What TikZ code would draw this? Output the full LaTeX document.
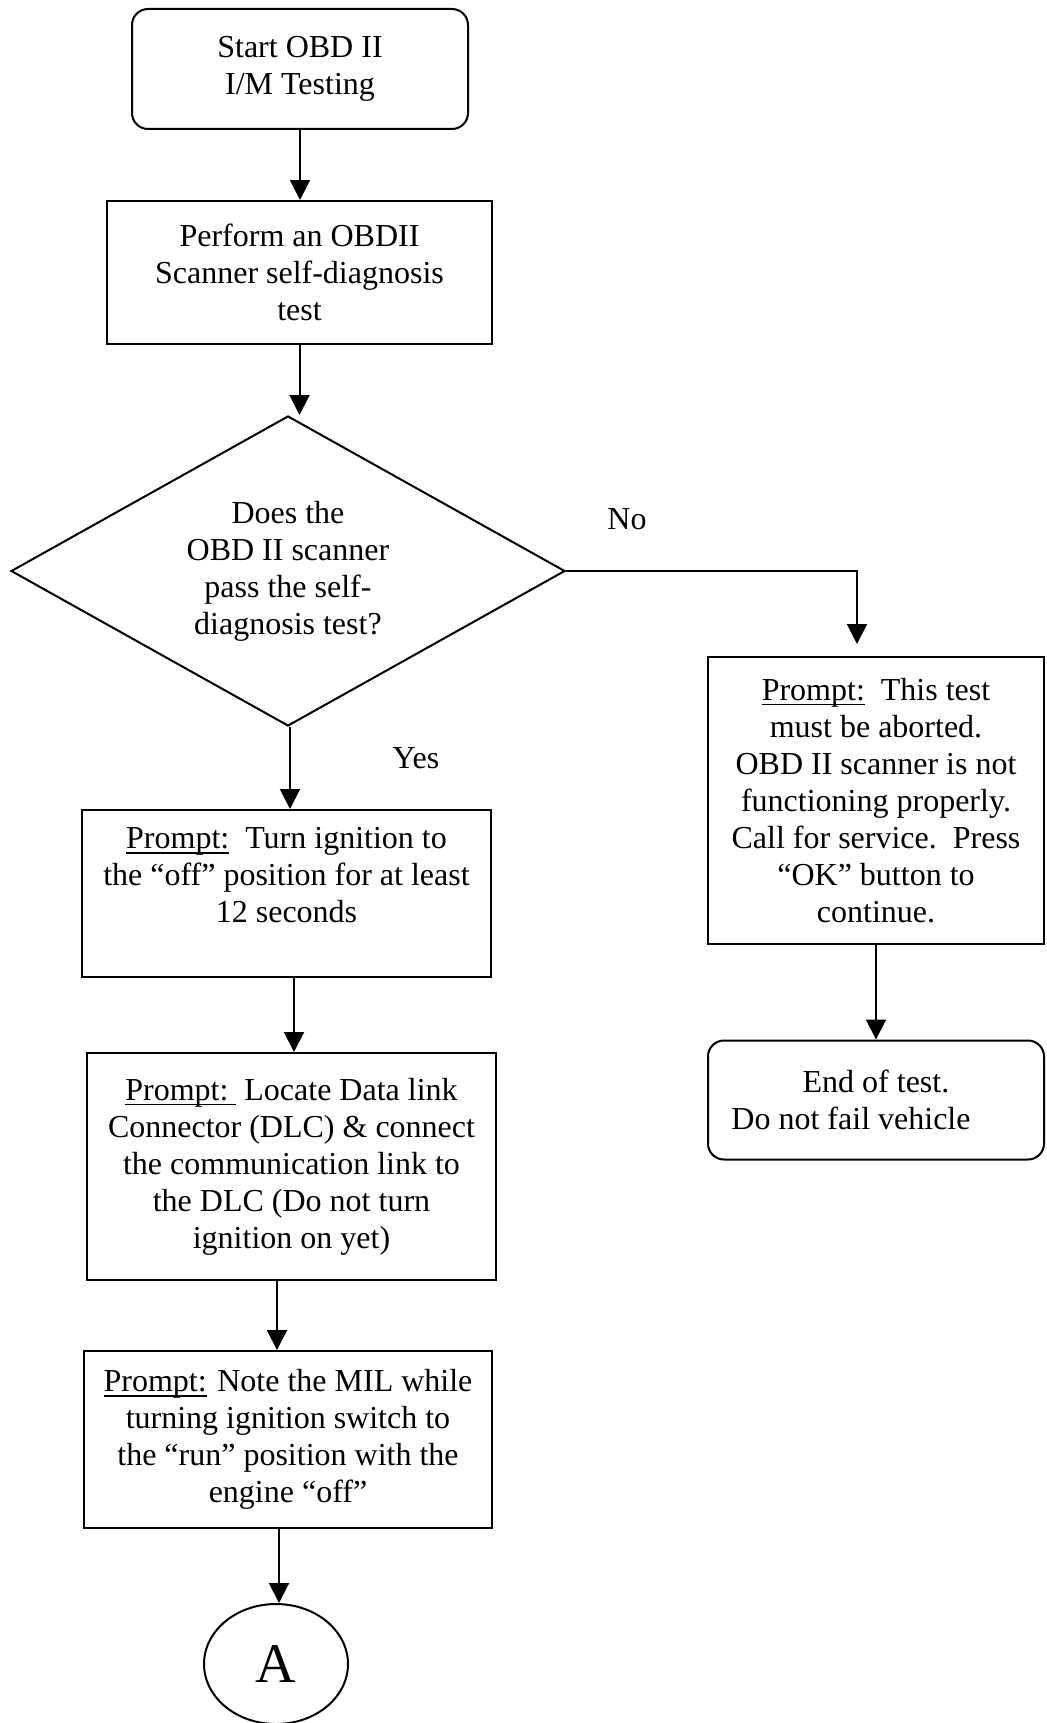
\documentclass[tikz,border=0pt]{standalone}
\usepackage{fontspec}
\setmainfont{Liberation Serif}
\usepackage{tikz}
\usetikzlibrary{arrows.meta,positioning,calc,shapes.geometric}

\newcommand\prompttag[1]{\setbox0\hbox{#1}\rlap{\rule[-2.5pt]{\wd0}{0.7pt}}#1}

\begin{document}
\begin{tikzpicture}[x=0.5pt,y=-0.5pt,line width=1pt,
	font=\fontsize{16}{18.5}\selectfont,
	stepbox/.style={draw,rectangle,align=center,inner sep=0pt},
	termbox/.style={stepbox,rounded corners=8pt},
	askbox/.style={draw,diamond,aspect=1.787,align=center,inner sep=0pt,minimum width=277pt,minimum height=155pt},
	flow/.style={-{Triangle[length=10pt,width=10pt]}}]
	\useasboundingbox (0,0) rectangle (1046,1723);
	% left column
	\node[termbox,minimum width=168pt,minimum height=60pt] (start) at (300,69) {Start OBD II\\I/M Testing};
	\node[stepbox,minimum width=192.5pt,minimum height=71.5pt] (selftest) at (299.5,272.5) {Perform an OBDII\\Scanner self-diagnosis\\test};
	\node[askbox] (passq) at (288,571) {Does the\\OBD II scanner\\pass the self-\\diagnosis test?};
	\node[stepbox,minimum width=204.5pt,minimum height=83.5pt] (ignoff) at (286.5,893.5) {\prompttag{Prompt:}\ \ Turn ignition to\\the “off” position for at least\\12 seconds\\\mbox{}};
	\node[stepbox,minimum width=204.5pt,minimum height=113.5pt] (linkdlc) at (291.5,1166.5) {\prompttag{Prompt:\ }\ Locate Data link\\Connector (DLC) \& connect\\the communication link to\\the DLC (Do not turn\\ignition on yet)};
	\node[stepbox,minimum width=204pt,minimum height=88.5pt] (notemil) at (288,1439.5) {\prompttag{Prompt:} Note the MIL while\\turning ignition switch to\\the “run” position with the\\engine “off”};
	\node[draw,ellipse,minimum width=72pt,minimum height=60pt,inner sep=0pt,font=\fontsize{28}{32}\selectfont] (conA) at (276,1664) {A};
	% right column
	\node[stepbox,minimum width=168pt,minimum height=143.5pt] (abort) at (876,800.5) {\prompttag{Prompt:}\ \ This test\\must be aborted.\\OBD II scanner is not\\functioning properly.\\Call for service.\ \ Press\\“OK” button to\\continue.};
	\node[termbox,minimum width=168pt,minimum height=59.5pt] (endtest) at (876,1100) {End of test.\\Do not fail vehicle\hspace{25pt}\mbox{}};
	% labels
	\node (lblno) at (627,519) {No};
	\node (lblyes) at (416,758) {Yes};
	% arrows
	\draw[flow] (start.south) -- (start.south |- selftest.north);
	\draw[flow] (selftest.south) -- (selftest.south |- passq.north);
	\draw[flow,shorten >=6pt] (passq.east) -| ([xshift=-9.5pt]abort.north);
	\draw[flow] ([xshift=1pt]passq.south) -- ([xshift=1pt]passq.south |- ignoff.north);
	\draw[flow] (abort.south) -- (endtest.north);
	\draw[flow] ([xshift=3.75pt]ignoff.south) -- ([xshift=3.75pt]ignoff.south |- linkdlc.north);
	\draw[flow] ([xshift=-7.25pt]linkdlc.south) -- ([xshift=-7.25pt]linkdlc.south |- notemil.north);
	\draw[flow] ([xshift=-4.5pt]notemil.south) -- ([xshift=-4.5pt]notemil.south |- conA.north);
\end{tikzpicture}
\end{document}
